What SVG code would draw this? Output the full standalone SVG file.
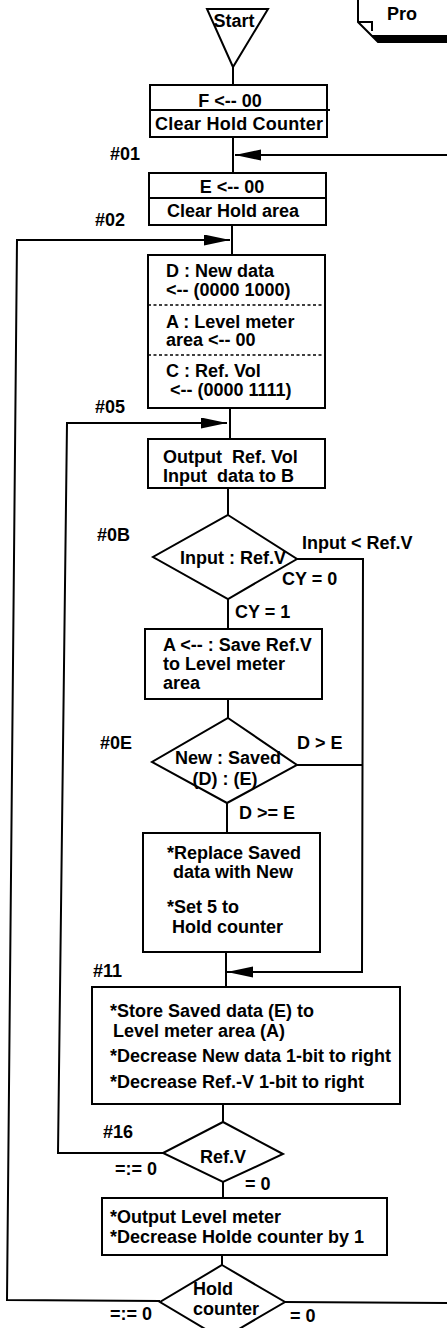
<svg xmlns="http://www.w3.org/2000/svg" width="447" height="1328" viewBox="0 0 447 1328">
<defs>
<style>
.s{fill:none;stroke:#000;stroke-width:2}
.b{fill:#fff;stroke:#000;stroke-width:2}
.d{fill:none;stroke:#000;stroke-width:1.6;stroke-dasharray:3,2.5}
text{font-family:"Liberation Sans",Arial,sans-serif;font-weight:bold;font-size:18px;fill:#000}
.c{text-anchor:middle}
</style>
<marker id="ah" markerUnits="userSpaceOnUse" markerWidth="27" markerHeight="12" refX="26" refY="5.5" orient="auto">
<path d="M0,0 L26,5.5 L0,11 z" fill="#000"/>
</marker>
</defs>
<rect width="447" height="1328" fill="#fff"/>

<g id="title">
<path class="s" d="M358,0 V22 L378,42 H447" stroke-width="2.5"/>
<path class="s" d="M358,22 H372 V31" stroke-width="1.5"/>
<polygon points="371,35 447,35 447,43 379,43" fill="#000"/>
<text x="387" y="20" font-size="24">Pro</text>
</g>

<g id="connectors">
<path class="s" d="M233,67 V85"/>
<path class="s" d="M233,137 V173"/>
<path class="s" d="M447,155 H235" marker-end="url(#ah)"/>
<path class="s" d="M232,225 V255"/>
<path class="s" d="M160,1301 L7,1300 L17,240 H230" marker-end="url(#ah)"/>
<path class="s" d="M230,408 V439"/>
<path class="s" d="M163,1153 H58 L67,423 H227" marker-end="url(#ah)"/>
<path class="s" d="M228,488 V515"/>
<path class="s" d="M228,599 V629"/>
<path class="s" d="M297,559 H363 L362,972 H227" marker-end="url(#ah)"/>
<path class="s" d="M228,699 V718"/>
<path class="s" d="M297,765 H363"/>
<path class="s" d="M227,803 V833"/>
<path class="s" d="M226,952 V987"/>
<path class="s" d="M223,1104 V1122"/>
<path class="s" d="M223,1182 V1198"/>
<path class="s" d="M222,1255 V1265"/>
<path class="s" d="M285,1302 L447,1303"/>
</g>

<g id="start">
<polygon class="b" points="207,9 268,9 233,67"/>
<text class="c" x="234" y="27">Start</text>
</g>

<g id="n_F">
<rect class="b" x="150" y="85" width="177" height="52"/>
<path class="s" d="M150,110 H330"/>
<text class="c" x="230" y="107">F &lt;-- 00</text>
<text x="155" y="130" textLength="168">Clear Hold Counter</text>
</g>

<text x="110" y="160">#01</text>

<g id="n_E">
<rect class="b" x="149" y="173" width="177" height="52"/>
<path class="s" d="M149,198 H326"/>
<text class="c" x="232" y="193">E &lt;-- 00</text>
<text class="c" x="233" y="217">Clear Hold area</text>
</g>

<text x="95" y="226">#02</text>

<g id="n_D">
<rect class="b" x="148" y="255" width="177" height="153"/>
<path class="d" d="M148,305 H325"/>
<path class="d" d="M148,355 H325"/>
<text x="166" y="277">D : New data</text>
<text x="166" y="296">&lt;-- (0000 1000)</text>
<text x="166" y="328">A : Level meter</text>
<text x="166" y="346">area &lt;-- 00</text>
<text x="166" y="377">C : Ref. Vol</text>
<text x="170" y="396">&lt;-- (0000 1111)</text>
</g>

<text x="95" y="413">#05</text>

<g id="n_out">
<rect class="b" x="148" y="439" width="177" height="49"/>
<text x="163" y="463" xml:space="preserve">Output  Ref. Vol</text>
<text x="163" y="482" xml:space="preserve">Input  data to B</text>
</g>

<text x="97" y="541">#0B</text>

<g id="dec1">
<polygon class="b" points="228,515 297,559 228,599 153,557"/>
<text class="c" x="233" y="564">Input : Ref.V</text>
</g>
<text x="302" y="549">Input &lt; Ref.V</text>
<text x="282" y="585">CY = 0</text>
<text x="235" y="618">CY = 1</text>

<g id="n_A">
<rect class="b" x="145" y="629" width="177" height="70"/>
<text x="163" y="651">A &lt;-- : Save Ref.V</text>
<text x="163" y="670">to Level meter</text>
<text x="163" y="689">area</text>
</g>

<text x="100" y="749">#0E</text>

<g id="dec2">
<polygon class="b" points="228,718 297,765 227,803 152,762"/>
<text class="c" x="228" y="764">New : Saved</text>
<text class="c" x="225" y="785">(D) : (E)</text>
</g>
<text x="297" y="749">D &gt; E</text>
<text x="239" y="819">D &gt;= E</text>

<g id="n_replace">
<rect class="b" x="143" y="833" width="177" height="119"/>
<text x="167" y="859">*Replace Saved</text>
<text x="173" y="878">data with New</text>
<text x="167" y="913">*Set 5 to</text>
<text x="172" y="933">Hold counter</text>
</g>

<text x="93" y="977">#11</text>

<g id="n_store">
<rect class="b" x="92" y="987" width="308" height="117"/>
<text x="110" y="1017">*Store Saved data (E) to</text>
<text x="113" y="1037">Level meter area (A)</text>
<text x="110" y="1062">*Decrease New data 1-bit to right</text>
<text x="110" y="1088">*Decrease Ref.-V 1-bit to right</text>
</g>

<text x="103" y="1138">#16</text>

<g id="dec3">
<polygon class="b" points="223,1122 283,1154 223,1182 163,1153"/>
<text class="c" x="223" y="1163">Ref.V</text>
</g>
<text x="115" y="1175">=:= 0</text>
<text x="245" y="1190">= 0</text>

<g id="n_outlevel">
<rect class="b" x="102" y="1198" width="285" height="57"/>
<text x="110" y="1223">*Output Level meter</text>
<text x="110" y="1243">*Decrease Holde counter by 1</text>
</g>

<g id="dec4">
<polygon class="b" points="222,1265 285,1302 222,1339 160,1302"/>
<text x="193" y="1295">Hold</text>
<text x="193" y="1315">counter</text>
</g>
<text x="110" y="1320">=:= 0</text>
<text x="290" y="1322">= 0</text>
</svg>
